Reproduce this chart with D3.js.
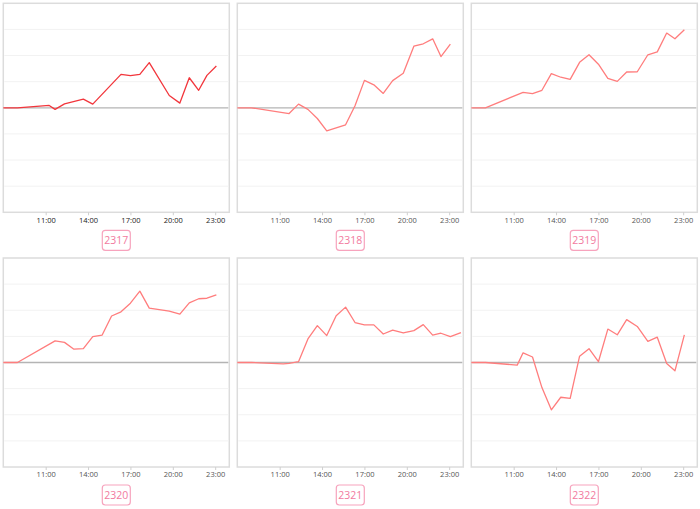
<!DOCTYPE html>
<html><head><meta charset="utf-8">
<script src="https://cdn.jsdelivr.net/npm/d3@7"></script>
<style>body{margin:0;background:#fff;}svg{display:block;}</style>
</head><body>
<svg id="chart" width="700" height="509"></svg>
<script>
const times = ["08:00","09:00","11:15","11:40","12:20","13:00","13:40","14:20","15:00","15:40","16:20","17:00","17:40","18:20","19:00","19:45","20:30","21:10","21:50","22:25","23:05","23:50"];
const tickLabels = ["11:00","14:00","17:00","20:00","23:00"];
const names = ["2317","2318","2319","2320","2321","2322"];
const s2317 = [0,0,0.09,-0.06,0.15,null,0.33,0.14,null,null,1.28,1.23,1.28,1.73,null,0.47,0.18,1.15,0.67,1.24,1.60,null];
const s2318 = [0,0,null,-0.22,0.14,-0.06,-0.41,-0.88,null,-0.65,0.08,1.05,0.88,0.55,1.04,1.32,2.36,2.45,2.64,1.96,2.44,null];
const s2319 = [0,0,null,0.59,0.54,0.67,1.31,1.17,1.09,1.74,2.03,1.67,1.13,1.01,1.37,1.38,2.03,2.14,2.86,2.64,2.99,null];
const s2320 = [0,0,null,0.83,0.77,0.51,0.53,0.99,1.05,1.78,1.94,2.27,2.73,2.08,null,1.97,1.85,2.28,2.44,2.46,2.59,null];
const s2321 = [0,0,-0.05,-0.03,0.03,0.90,1.41,1.03,1.79,2.12,1.53,1.44,1.44,1.09,1.24,1.13,1.22,1.45,1.05,1.12,0.99,1.14];
const s2322 = [0,0,-0.10,0.37,0.21,-0.96,-1.81,-1.33,-1.37,0.24,0.53,0.03,1.28,1.06,1.64,1.38,0.81,0.97,-0.04,-0.32,1.06,null];
const seriesList = [s2317,s2318,s2319,s2320,s2321,s2322];
const yDomain = [-4, 4];
const gridValues = [-3,-2,-1,1,2,3];

const toHours = t => { const [h,m] = t.split(":").map(Number); return h + m/60; };
const svg = d3.select("#chart");

const colLefts = [3.3, 237.3, 471.3];
const panelW = 226;
const rowTops = [3.3, 258];
const panelH = 209;

names.forEach((name, i) => {
  const col = i % 3, row = Math.floor(i / 3);
  const x0 = colLefts[col], y0 = rowTops[row];
  const g = svg.append("g");
  const x = d3.scaleLinear().domain([8, 24]).range([x0, x0 + panelW]);
  const y = d3.scaleLinear().domain(yDomain).range([y0 + panelH, y0]);
  const active = i === 0;

  g.append("rect").attr("x", x0).attr("y", y0).attr("width", panelW).attr("height", panelH)
    .attr("fill", "#fff").attr("stroke", "#dcdcdc").attr("stroke-width", 1.5);

  g.selectAll(".grid").data(gridValues).join("line")
    .attr("x1", x0 + 1).attr("x2", x0 + panelW - 1)
    .attr("y1", d => y(d)).attr("y2", d => y(d))
    .attr("stroke", "#f2f2f2").attr("stroke-width", 1);

  g.append("line").attr("x1", x0 + 1).attr("x2", x0 + panelW - 1)
    .attr("y1", y(0)).attr("y2", y(0)).attr("stroke", "#b4b4b4").attr("stroke-width", 1.3);

  const axis = d3.axisBottom(x).tickValues(tickLabels.map(toHours))
    .tickFormat((d, k) => tickLabels[k]).tickSize(3).tickPadding(2);
  const ax = g.append("g").attr("transform", `translate(0,${y0 + panelH})`).call(axis);
  ax.select(".domain").remove();
  ax.selectAll(".tick line").attr("stroke", "#cfcfcf");
  ax.selectAll(".tick text").attr("font-family", "Open Sans, sans-serif")
    .attr("font-size", 7.5).attr("fill", active ? "#222" : "#555");

  const pts = times.map((t, k) => ({t: toHours(t), v: seriesList[i][k]})).filter(d => d.v !== null);
  const line = d3.line().x(d => x(d.t)).y(d => y(d.v));
  g.append("path").datum(pts).attr("d", line).attr("fill", "none")
    .attr("stroke", active ? "#f2363c" : "#ff7d7d").attr("stroke-width", 1.3)
    .attr("stroke-linejoin", "round");

  const cx = x0 + panelW / 2, by = y0 + panelH + 18;
  g.append("rect").attr("x", cx - 14).attr("y", by).attr("width", 28).attr("height", 20)
    .attr("rx", 3).attr("fill", "#fff").attr("stroke", "#f7a3bd").attr("stroke-width", 1.2);
  g.append("text").attr("x", cx).attr("y", by + 14).attr("text-anchor", "middle")
    .attr("font-family", "Open Sans, sans-serif").attr("font-size", 10.5)
    .attr("fill", "#f27a9e").text(name);
});
</script>
</body></html>
